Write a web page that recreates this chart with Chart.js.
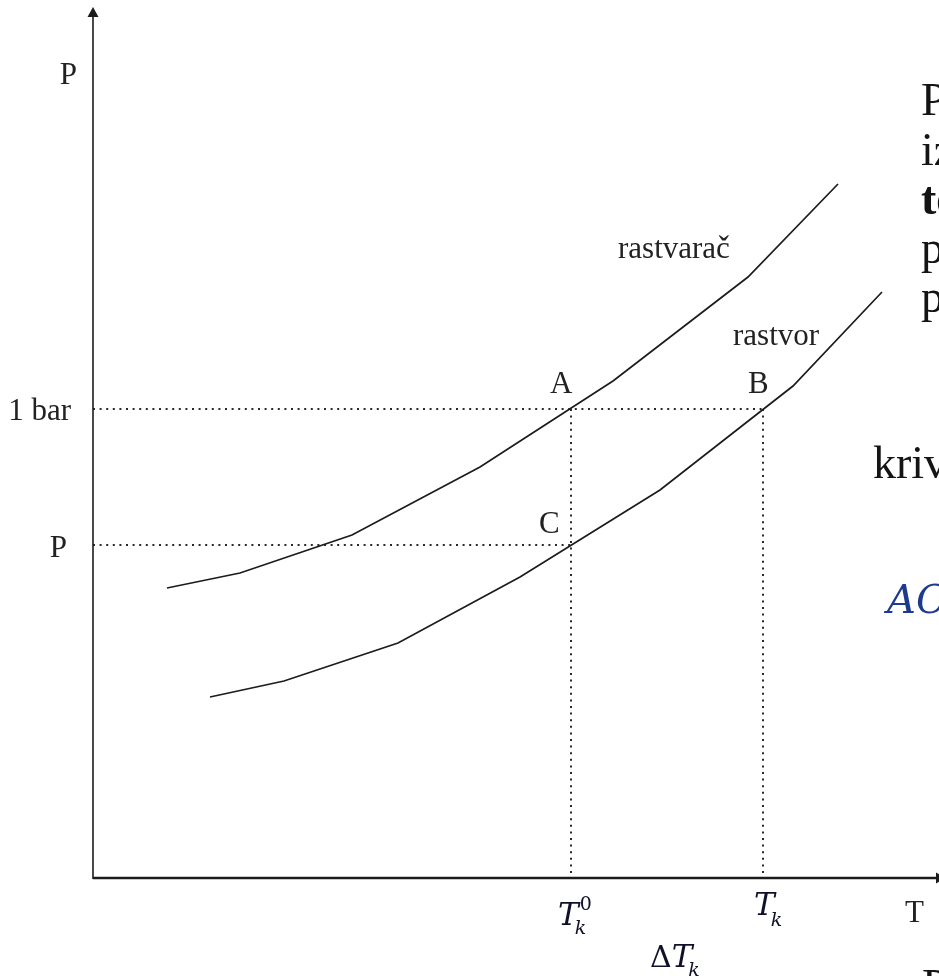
<!DOCTYPE html>
<html>
<head>
<meta charset="utf-8">
<script src="https://cdn.jsdelivr.net/npm/chart.js@4"></script>
<style>
html, body { margin: 0; padding: 0; background: #fff; }
#wrap { width: 939px; height: 976px; }
</style>
</head>
<body>
<div id="wrap"><canvas id="myChart" width="939" height="976"></canvas></div>
<script>
// vapour pressure curves (T, P in drawing units)
const solventT = [74, 147, 259, 387, 520, 655, 745];
const solventP = [290, 305, 343, 411, 497, 601, 694];
const solutionT = [117, 191, 305, 427, 567, 700, 789];
const solutionP = [181, 197, 235, 301, 388, 492, 586];

// reference levels
const pressureTicks = [469, 333];
const pressureLabels = ['1 bar', 'P'];
const boilT0 = 478;   // T_k^0  (A, C)
const boilT = 670;    // T_k    (B)

const toPts = (xs, ys) => xs.map((x, i) => ({ x: x, y: ys[i] }));

const ink = '#1c1c1c';
const dotted = {
  borderColor: '#2a2a2a',
  borderWidth: 2,
  borderDash: [2, 4.6],
  pointRadius: 0,
  fill: false
};

const overlay = {
  id: 'overlay',
  afterDraw(chart) {
    const c = chart.ctx;
    const xs = chart.scales.x, ys = chart.scales.y;
    const X = v => xs.getPixelForValue(v);
    const Y = v => ys.getPixelForValue(v);
    const x0 = X(0), y0 = Y(0);

    c.save();
    // axes with arrows
    c.strokeStyle = ink;
    c.fillStyle = ink;
    c.lineWidth = 1.6;
    c.beginPath();
    c.moveTo(x0, y0 + 1);
    c.lineTo(x0, 14);
    c.stroke();
    c.beginPath();
    c.moveTo(x0, 7);
    c.lineTo(x0 - 5.5, 17);
    c.lineTo(x0 + 5.5, 17);
    c.closePath();
    c.fill();

    c.lineWidth = 2.4;
    c.beginPath();
    c.moveTo(x0, y0);
    c.lineTo(945, y0);
    c.stroke();
    c.beginPath();
    c.moveTo(946, y0);
    c.lineTo(936, y0 - 5.5);
    c.lineTo(936, y0 + 5.5);
    c.closePath();
    c.fill();

    // plain serif labels
    c.fillStyle = '#222';
    c.font = '31px "Liberation Serif", serif';
    c.textAlign = 'right';
    c.fillText('P', 77, 84);
    c.fillText(pressureLabels[0], 71, Y(pressureTicks[0]) + 11);
    c.fillText(pressureLabels[1], 67, Y(pressureTicks[1]) + 12);
    c.textAlign = 'left';
    c.fillText('A', X(boilT0) - 21, Y(pressureTicks[0]) - 16);
    c.fillText('B', X(boilT) - 15, Y(pressureTicks[0]) - 16);
    c.fillText('C', X(boilT0) - 32, Y(pressureTicks[1]) - 12);
    c.fillText('rastvarač', X(525), 258);
    c.fillText('rastvor', X(640), 345);
    c.fillText('T', 905, 922);

    // math labels
    c.fillStyle = '#10102a';
    const big = 'italic 31px "DejaVu Serif", serif';
    const small = 'italic 19px "DejaVu Serif", serif';
    let px = X(boilT0) - 13;
    c.font = big;
    c.fillText('T', px, 925);
    let w = c.measureText('T').width;
    c.font = small;
    c.fillText('k', px + w - 4, 934);
    c.font = '19px "DejaVu Serif", serif';
    c.fillText('0', px + w + 1, 910);

    px = X(boilT) - 9;
    c.font = big;
    c.fillText('T', px, 915);
    w = c.measureText('T').width;
    c.font = small;
    c.fillText('k', px + w - 4, 926);

    px = 650;
    c.font = '30px "DejaVu Serif", serif';
    c.fillText('Δ', px, 967);
    w = c.measureText('Δ').width;
    c.font = big;
    c.fillText('T', px + w, 967);
    w += c.measureText('T').width;
    c.font = small;
    c.fillText('k', px + w - 4, 976);

    // slide text cut off at the right edge
    c.fillStyle = '#141414';
    c.font = '46px "Liberation Serif", serif';
    c.fillText('P', 921, 115);
    c.fillText('iz', 921, 165);
    c.font = 'bold 46px "Liberation Serif", serif';
    c.fillText('te', 921, 214);
    c.font = '46px "Liberation Serif", serif';
    c.fillText('p', 921, 263);
    c.fillText('p', 921, 312);
    c.fillText('kriv', 873, 478);
    c.fillText('P', 922, 1001);
    c.fillStyle = '#1d3a8f';
    c.font = 'italic 40px "DejaVu Serif", serif';
    c.fillText('AC', 887, 613);
    c.restore();
  }
};

const ctx = document.getElementById('myChart');

new Chart(ctx, {
  type: 'scatter',
  data: {
    datasets: [
      {
        label: 'rastvarač',
        data: toPts(solventT, solventP),
        showLine: true,
        borderColor: ink,
        borderWidth: 1.7,
        pointRadius: 0,
        tension: 0
      },
      {
        label: 'rastvor',
        data: toPts(solutionT, solutionP),
        showLine: true,
        borderColor: ink,
        borderWidth: 1.7,
        pointRadius: 0,
        tension: 0
      },
      Object.assign({ label: '1 bar', showLine: true,
        data: [{ x: 0, y: pressureTicks[0] }, { x: boilT, y: pressureTicks[0] }] }, dotted),
      Object.assign({ label: 'P', showLine: true,
        data: [{ x: 0, y: pressureTicks[1] }, { x: boilT0, y: pressureTicks[1] }] }, dotted),
      Object.assign({ label: 'Tk0', showLine: true,
        data: [{ x: boilT0, y: pressureTicks[0] }, { x: boilT0, y: 0 }] }, dotted),
      Object.assign({ label: 'Tk', showLine: true,
        data: [{ x: boilT, y: pressureTicks[0] }, { x: boilT, y: 0 }] }, dotted)
    ]
  },
  options: {
    responsive: false,
    animation: false,
    events: [],
    layout: { padding: { left: 93, right: 0, top: 10, bottom: 98 } },
    plugins: {
      legend: { display: false },
      tooltip: { enabled: false }
    },
    scales: {
      x: { type: 'linear', min: 0, max: 846, display: false },
      y: { type: 'linear', min: 0, max: 868, display: false }
    }
  },
  plugins: [overlay]
});
</script>
</body>
</html>
